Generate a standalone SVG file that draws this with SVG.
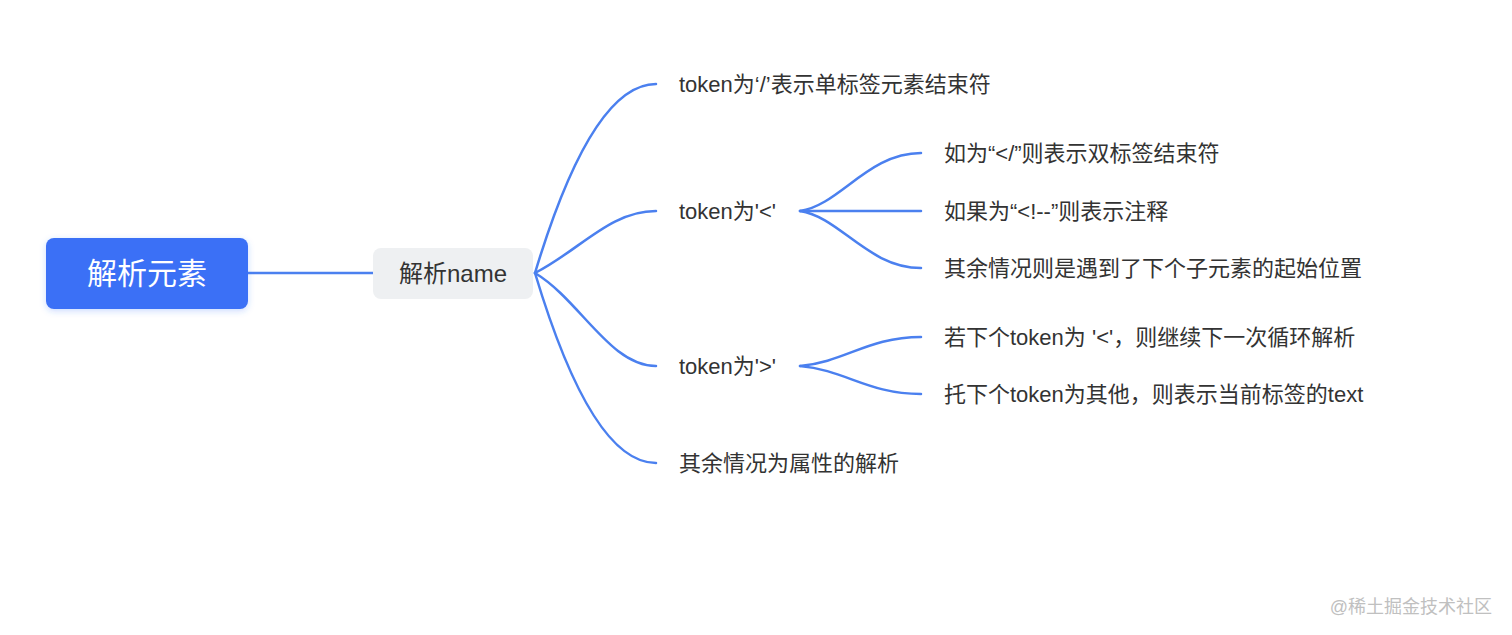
<svg xmlns="http://www.w3.org/2000/svg" width="1512" height="635" viewBox="0 0 1512 635">
<style>
text{font-family:"Liberation Sans","Noto Sans CJK SC",sans-serif;dominant-baseline:central;fill:#333}
.t{font-size:22px}
.ln{fill:none;stroke:#4b80ef;stroke-width:2.5;stroke-linecap:round}
</style>
<defs>
<filter id="sh" x="-10%" y="-20%" width="120%" height="150%">
<feDropShadow dx="0" dy="2" stdDeviation="3" flood-color="#3370ff" flood-opacity="0.25"/>
</filter>
</defs>
<rect width="1512" height="635" fill="#fff"/>
<g id="connectors">
<path class="ln" d="M248 273 H373"/>
<path class="ln" d="M535 273 Q592 84 656 84"/>
<path class="ln" d="M535 273 C580 250 610 211 656 211"/>
<path class="ln" d="M535 273 C580 300 610 366 656 366"/>
<path class="ln" d="M535 273 Q592 463 656 463"/>
<path class="ln" d="M800 211 C840 205 868 153 921 153"/>
<path class="ln" d="M800 211 H921"/>
<path class="ln" d="M800 211 C840 217 868 268 921 268"/>
<path class="ln" d="M800 366 C845 362 868 337 921 337"/>
<path class="ln" d="M800 366 C845 370 868 394 921 394"/>
</g>
<g id="root">
<rect x="46" y="238" width="202" height="71" rx="8" fill="#3a70f6" filter="url(#sh)"/>
<text x="147" y="273" text-anchor="middle" style="fill:#fff;font-size:30px">解析元素</text>
</g>
<g id="n-name">
<rect x="373" y="248" width="160" height="51" rx="8" fill="#eef0f2"/>
<text x="453" y="273" text-anchor="middle" style="font-size:24px">解析name</text>
</g>
<g id="n1"><text class="t" x="679" y="84">token为‘/’表示单标签元素结束符</text></g>
<g id="n2"><text class="t" x="679" y="211">token为'&lt;'</text></g>
<g id="n3"><text class="t" x="679" y="366">token为'&gt;'</text></g>
<g id="n4"><text class="t" x="679" y="463">其余情况为属性的解析</text></g>
<g id="n21"><text class="t" x="944" y="153">如为“&lt;/”则表示双标签结束符</text></g>
<g id="n22"><text class="t" x="944" y="211">如果为“&lt;!--”则表示注释</text></g>
<g id="n23"><text class="t" x="944" y="268">其余情况则是遇到了下个子元素的起始位置</text></g>
<g id="n31"><text class="t" x="944" y="337">若下个token为 '&lt;'，则继续下一次循环解析</text></g>
<g id="n32"><text class="t" x="944" y="394">托下个token为其他，则表示当前标签的text</text></g>
<text x="1492" y="607" text-anchor="end" style="font-size:18px;fill:#c0c0c0">@稀土掘金技术社区</text>
</svg>
